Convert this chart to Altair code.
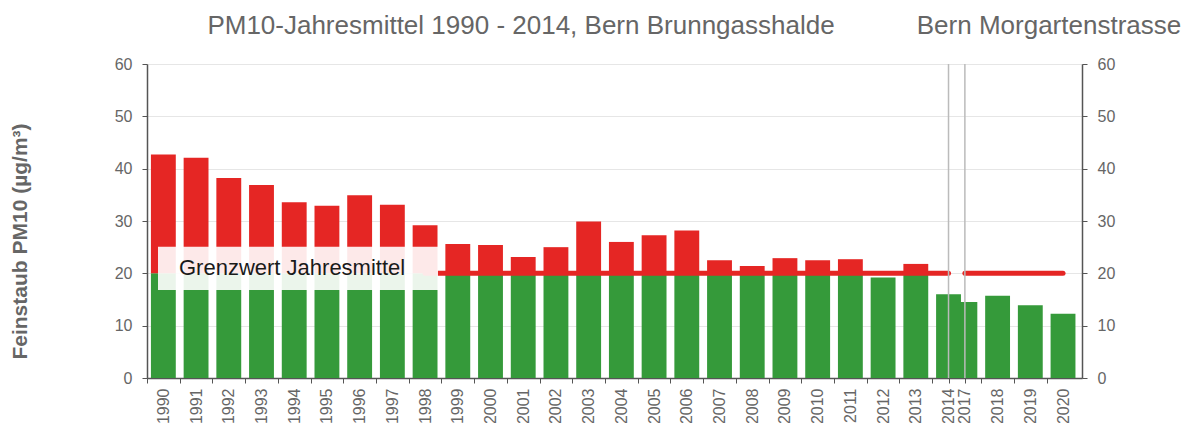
import altair as alt
import pandas as pd

# ---------------- data ----------------
station1_years = ["1990", "1991", "1992", "1993", "1994", "1995", "1996", "1997",
                  "1998", "1999", "2000", "2001", "2002", "2003", "2004", "2005",
                  "2006", "2007", "2008", "2009", "2010", "2011", "2012", "2013", "2014"]
station1_values = [42.7, 42.1, 38.2, 36.9, 33.6, 32.9, 34.9, 33.1, 29.2, 25.6,
                   25.4, 23.1, 25.0, 29.9, 26.0, 27.3, 28.2, 22.5, 21.4, 22.9,
                   22.5, 22.7, 19.2, 21.8, 16.0]
station2_years = ["2017", "2018", "2019", "2020"]
station2_values = [14.5, 15.7, 13.9, 12.3]
limit_value = 20
limit_segments = [("1998", "2014"), ("2017", "2020")]
y_ticks = [0, 10, 20, 30, 40, 50, 60]

title_left = "PM10-Jahresmittel 1990 - 2014, Bern Brunngasshalde"
title_right = "Bern Morgartenstrasse"
y_title = "Feinstaub PM10 (µg/m³)"
limit_label = "Grenzwert Jahresmittel"

# ---------------- slot layout ----------------
# station 1 fills one slot per year; station 2 starts half-way into the last slot of station 1
n1 = len(station1_years)
offset2 = n1 - 0.5
pos1 = [i + 0.5 for i in range(n1)]
pos2 = [offset2 + j + 0.5 for j in range(len(station2_years))]
pos_of = dict(zip(station1_years + station2_years, pos1 + pos2))

# station 2 first so the 2014 bar is drawn over the 2017 bar
df = pd.DataFrame({
    "year": station2_years + station1_years,
    "value": station2_values + station1_values,
    "pos": pos2 + pos1,
})
seg_df = pd.DataFrame({
    "x0": [pos_of[a] for a, b in limit_segments],
    "x1": [pos_of[b] for a, b in limit_segments],
    "limit": [limit_value] * len(limit_segments),
})
vline_df = pd.DataFrame({"pos": [pos_of[station1_years[-1]], pos_of[station2_years[0]]]})

centers = pos1 + pos2
tick_positions = [float(i) for i in range(n1)] + [pos1[-1], pos2[0]] + [p + 0.5 for p in pos2[:-1]]
axis_values = sorted(set(centers + tick_positions))
labels = station1_years + station2_years

def js_arr(a):
    return "[" + ",".join(repr(x) if not isinstance(x, str) else "'" + x + "'" for x in a) + "]"

label_expr = (f"indexof({js_arr(centers)}, datum.value) >= 0 ? "
              f"{js_arr(labels)}[indexof({js_arr(centers)}, datum.value)] : ''")
tick_test = f"indexof({js_arr(tick_positions)}, datum.value) >= 0"

RED = "#e52624"
GREEN = "#359a3a"
GREY_TXT = "#666666"
AXIS_COL = "#555555"
FONT = "Liberation Sans"

xscale = alt.Scale(domain=[0, 28.58], nice=False, zero=False)
yscale = alt.Scale(domain=[0, 60], nice=False)
half_w = 0.38

x_axis = alt.Axis(values=axis_values, labelExpr=label_expr, labelAngle=270, orient="bottom",
                  labelOverlap=False, labelFlush=False, labelFontSize=16,
                  labelColor=GREY_TXT, labelPadding=5, tickSize=5,
                  tickColor=AXIS_COL, domainColor=AXIS_COL, domainWidth=1.5,
                  tickOpacity={"condition": {"test": tick_test, "value": 1}, "value": 0},
                  grid=False, title=None, labelFont=FONT)

left_axis = alt.Axis(values=y_ticks, orient="left", grid=True, gridColor="#e6e6e6",
                     domainColor=AXIS_COL, domainWidth=1.5, tickColor=AXIS_COL, tickSize=5,
                     labelPadding=10, labelFontSize=16, labelColor=GREY_TXT, labelFont=FONT,
                     title=y_title, titleFontSize=21, titleFont=FONT, titleFontWeight="bold",
                     titleColor=GREY_TXT, titleAngle=270, titleX=-120.6, titleY=177,
                     titleAlign="center", titleBaseline="alphabetic")
right_axis = alt.Axis(values=y_ticks, orient="right", grid=False,
                      domainColor=AXIS_COL, domainWidth=1.5, tickColor=AXIS_COL, tickSize=5,
                      labelPadding=10, labelFontSize=16, labelColor=GREY_TXT, labelFont=FONT,
                      title=None)

base = alt.Chart(df).transform_calculate(
    x0=f"datum.pos - {half_w}", x1=f"datum.pos + {half_w}",
    green_top=f"min(datum.value, {limit_value})", limit=f"{limit_value}", zero="0")

green = base.mark_bar(color=GREEN).encode(
    x=alt.X("x0:Q", scale=xscale, axis=x_axis), x2="x1:Q",
    y=alt.Y("zero:Q", scale=yscale, axis=left_axis), y2="green_top:Q",
)

red = base.transform_filter(f"datum.value > {limit_value}").mark_bar(color=RED).encode(
    x=alt.X("x0:Q", scale=xscale, axis=None), x2="x1:Q",
    y=alt.Y("limit:Q", scale=yscale, axis=right_axis), y2="value:Q",
)

limit_lines = alt.Chart(seg_df).mark_rule(color=RED, strokeWidth=5, strokeCap="round").encode(
    x=alt.X("x0:Q", scale=xscale, axis=None), x2="x1:Q",
    y=alt.Y("limit:Q", scale=yscale, axis=None),
)

vlines = alt.Chart(vline_df).mark_rule(color="#bbbbbb", strokeWidth=1.5).encode(
    x=alt.X("pos:Q", scale=xscale, axis=None),
)

one = pd.DataFrame({"t": [0]})
box = alt.Chart(one).mark_rect(fill="white", opacity=0.9).encode(
    x=alt.value(11), x2=alt.value(291), y=alt.value(182.7), y2=alt.value(226))
box_text = alt.Chart(one).mark_text(text=limit_label, fontSize=22, font=FONT, color="#1a1a1a",
                                     align="left", baseline="alphabetic").encode(
    x=alt.value(32), y=alt.value(211))
t1 = alt.Chart(one).mark_text(text=title_left, fontSize=26, font=FONT, color=GREY_TXT,
                              align="center", baseline="alphabetic").encode(
    x=alt.value(374), y=alt.value(-30))
t2 = alt.Chart(one).mark_text(text=title_right, fontSize=26, font=FONT, color=GREY_TXT,
                              align="center", baseline="alphabetic").encode(
    x=alt.value(902), y=alt.value(-30))

chart = alt.layer(green, red, limit_lines, vlines, box, box_text, t1, t2).resolve_axis(
    x="independent", y="independent"
).properties(
    width=935, height=314,
    autosize=alt.AutoSizeParams(type="none"),
    padding={"left": 139, "top": 56, "right": 100, "bottom": 50},
).configure_view(stroke=None).configure(font=FONT)

chart.save("out.html", embed_options={"renderer": "svg", "actions": False})
